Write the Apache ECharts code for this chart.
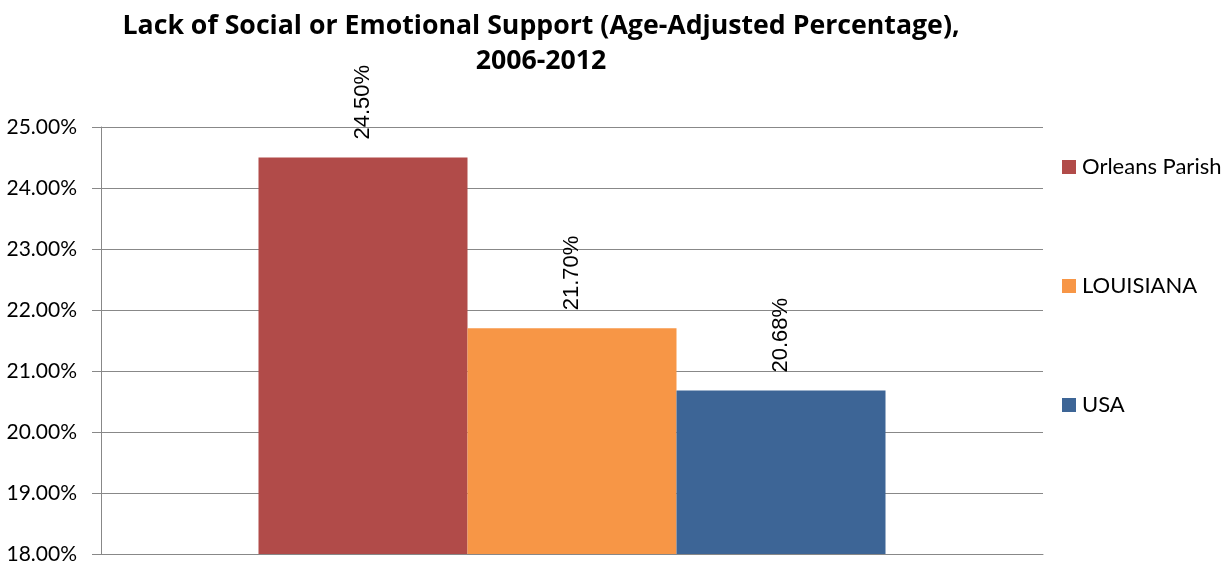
<!DOCTYPE html>
<html><head><meta charset="utf-8">
<script src="https://cdn.jsdelivr.net/npm/echarts@6/dist/echarts.min.js"></script>
<style>html,body{margin:0;padding:0;background:#fff}#c{width:1231px;height:565px}</style>
</head><body><div id="c"></div>
<script>
const categories = ['2006-2012'];
const seriesNames = ['Orleans Parish', 'LOUISIANA', 'USA'];
const orleansValues = [24.50];
const louisianaValues = [21.70];
const usaValues = [20.68];
const yTicks = { min: 18, max: 25, interval: 1 };
const colors = ['#B14B49', '#F79646', '#3D6596'];
const FONT = "Lato, 'Open Sans', sans-serif";
const TITLE_FONT = "'Open Sans', Lato, sans-serif";
const LABEL_FONT = "'Liberation Sans', Arial, sans-serif";

const chart = echarts.init(document.getElementById('c'));
const allValues = [orleansValues, louisianaValues, usaValues];
chart.setOption({
  animation: false,
  title: {
    text: 'Lack of Social or Emotional Support (Age-Adjusted Percentage),\n2006-2012',
    left: 536, top: 4, textAlign: 'center',
    textStyle: { fontFamily: TITLE_FONT, fontWeight: 'bold', fontSize: 26.7, lineHeight: 35, color: '#000' }
  },
  legend: {
    orient: 'vertical', left: 1062, top: 156, padding: 0,
    itemWidth: 14, itemHeight: 14, itemGap: 97, icon: 'rect',
    textStyle: { fontFamily: FONT, fontSize: 22, color: '#000', padding: [0,0,0,1] },
    data: seriesNames
  },
  grid: { left: 101, right: 188, top: 127, bottom: 11 },
  xAxis: {
    type: 'category', data: categories,
    axisLine: { lineStyle: { color: '#888', width: 1 } },
    axisTick: { show: false }, axisLabel: { show: false }
  },
  yAxis: {
    type: 'value', min: yTicks.min, max: yTicks.max, interval: yTicks.interval,
    axisLine: { show: true, lineStyle: { color: '#888', width: 1 } },
    axisTick: { show: true, length: 9, lineStyle: { color: '#888' } },
    splitLine: { lineStyle: { color: '#888', width: 1 } },
    axisLabel: { formatter: v => v.toFixed(2) + '%', fontFamily: FONT, fontSize: 21, color: '#000', margin: 24 }
  },
  series: seriesNames.map((n, i) => ({
    name: n, type: 'bar', data: allValues[i], barWidth: 209, barGap: '0%',
    itemStyle: { color: colors[i] },
    label: {
      show: true, position: 'top', rotate: 90, align: 'left', verticalAlign: 'middle', distance: 18,
      formatter: p => p.value.toFixed(2) + '%',
      fontFamily: LABEL_FONT, fontSize: 22, color: '#000'
    }
  }))
});
</script></body></html>
